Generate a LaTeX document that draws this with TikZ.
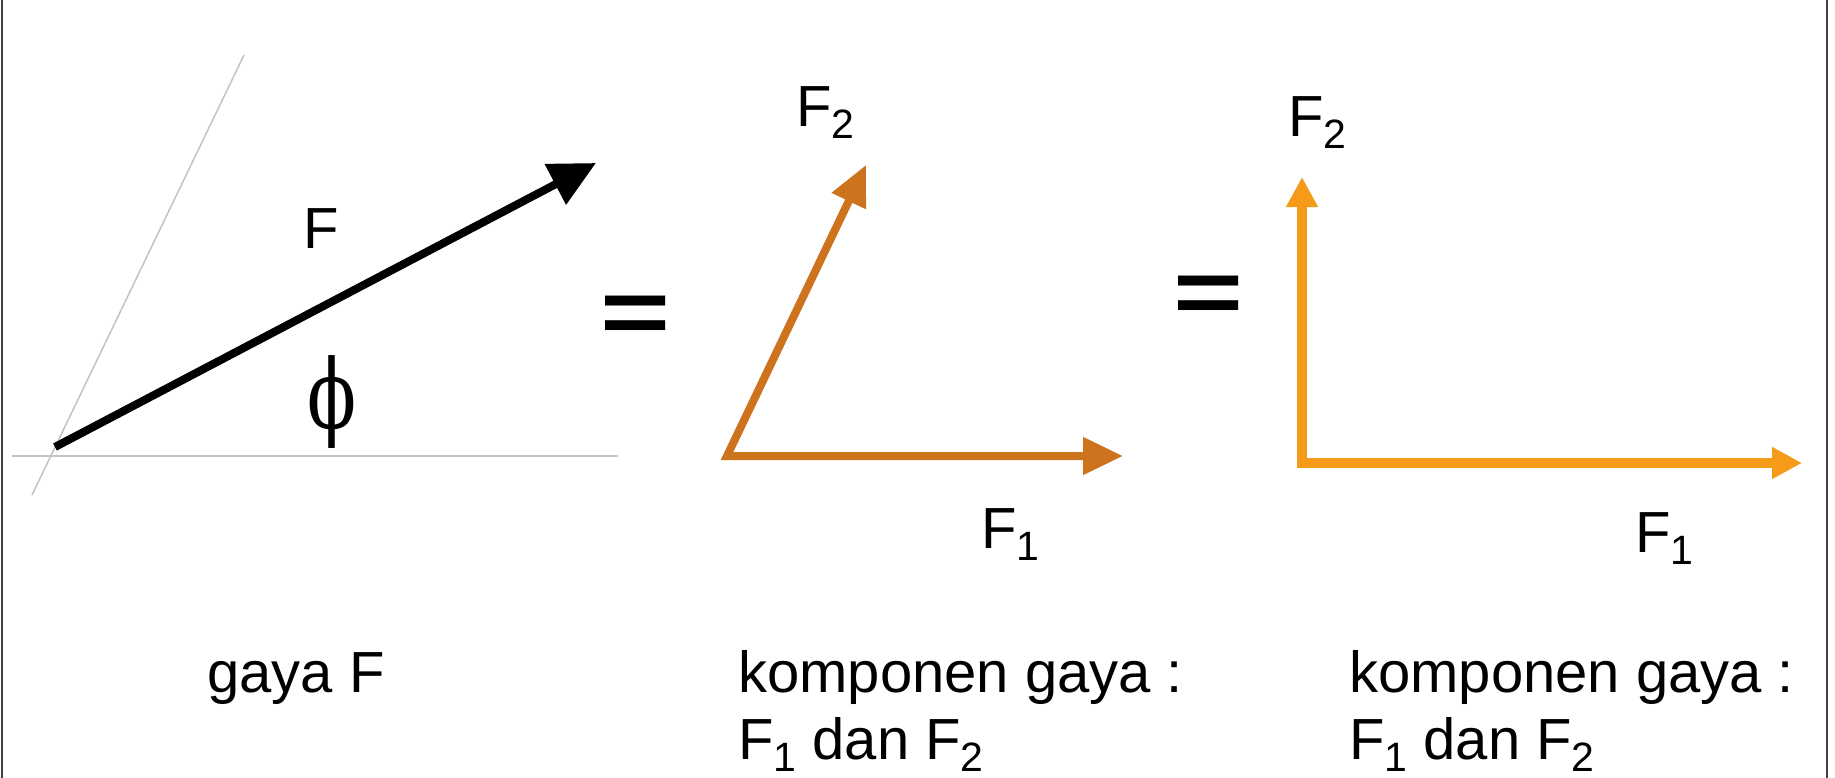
\documentclass[tikz,border=0pt]{standalone}
\usepackage{fontspec}
\setmainfont{Liberation Sans}
\newfontfamily\phifont{DejaVu Serif}
\usetikzlibrary{arrows.meta}
\definecolor{brownvec}{RGB}{205,115,30}
\definecolor{orangevec}{RGB}{245,155,25}
\definecolor{guide}{RGB}{195,195,195}
\newcommand\subidx[1]{\raisebox{-12pt}{\fontsize{41}{41}\selectfont #1}}
\begin{document}
\begin{tikzpicture}[x=1pt,y=-1pt,
  lbl/.style={inner sep=0pt, anchor=base west, font=\fontsize{58}{71}\selectfont},
  eqsign/.style={inner sep=0pt, anchor=base, font=\fontsize{120}{120}\selectfont\bfseries},
  guideline/.style={draw=guide, line width=1.5pt},
  forcevec/.style={draw=black, line width=8pt, -{Triangle[length=46pt,width=44pt]}},
  compA/.style={draw=brownvec, line width=8pt, {Triangle[length=40pt,width=36pt]}-{Triangle[length=40pt,width=36pt]}},
  compB/.style={draw=orangevec, line width=10pt, {Triangle[length=30pt,width=30pt]}-{Triangle[length=30pt,width=30pt]}},
  frameline/.style={draw=black!75, line width=2pt}
]
\useasboundingbox (0,0) rectangle (1835,778);
\fill[white] (0,0) rectangle (1835,778);

% frame sides
\coordinate (L0) at (2,0);   \coordinate (L1) at (2,778);
\coordinate (R0f) at (1827,0); \coordinate (R1f) at (1827,778);
\draw[frameline] (L0) -- (L1);
\draw[frameline] (R0f) -- (R1f);

% guide lines
\coordinate (gh1) at (12,456);  \coordinate (gh2) at (618,456);
\coordinate (go1) at (244,55);  \coordinate (go2) at (32,495);
\draw[guideline] (gh1) -- (gh2);
\draw[guideline] (go1) -- (go2);

% force F
\coordinate (O) at (55,447);
\coordinate (Ftip) at (596,163);
\draw[forcevec] (O) -- (Ftip);
\node[lbl] (Flbl) at (303,248) {F};
\node[inner sep=0pt, anchor=center, font=\phifont\fontsize{80}{80}\selectfont] (phi) at (332,402) {\scalebox{0.9}[1.2]{ϕ}};

% equals signs
\node[eqsign] (eq1) at (636,343) {\scalebox{1}[0.76]{=}};
\node[eqsign] (eq2) at (1209,323) {\scalebox{1}[0.76]{=}};

% oblique components
\coordinate (B0) at (727,456);
\coordinate (B1) at (1123,456);
\coordinate (B2) at (866,165);
\draw[compA] (B2) -- (B0) -- (B1);
\node[lbl] (F2a) at (796,127) {F\subidx{2}};
\node[lbl] (F1a) at (981,548) {F\subidx{1}};

% rectangular components
\coordinate (C0) at (1302,463);
\coordinate (C1) at (1802,463);
\coordinate (C2) at (1302,177);
\draw[compB] (C2) -- (C0) -- (C1);
\node[lbl] (F2b) at (1288,137) {F\subidx{2}};
\node[lbl] (F1b) at (1635,552) {F\subidx{1}};

% captions
\node[lbl] (capA) at (207,692) {gaya F};
\node[lbl] (capB1) at (738,692) {komponen gaya :};
\node[lbl] (capB2) at (738,759) {F\subidx{1} dan F\subidx{2}};
\node[lbl] (capC1) at (1349,692) {komponen gaya :};
\node[lbl] (capC2) at (1349,759) {F\subidx{1} dan F\subidx{2}};
\end{tikzpicture}
\end{document}
